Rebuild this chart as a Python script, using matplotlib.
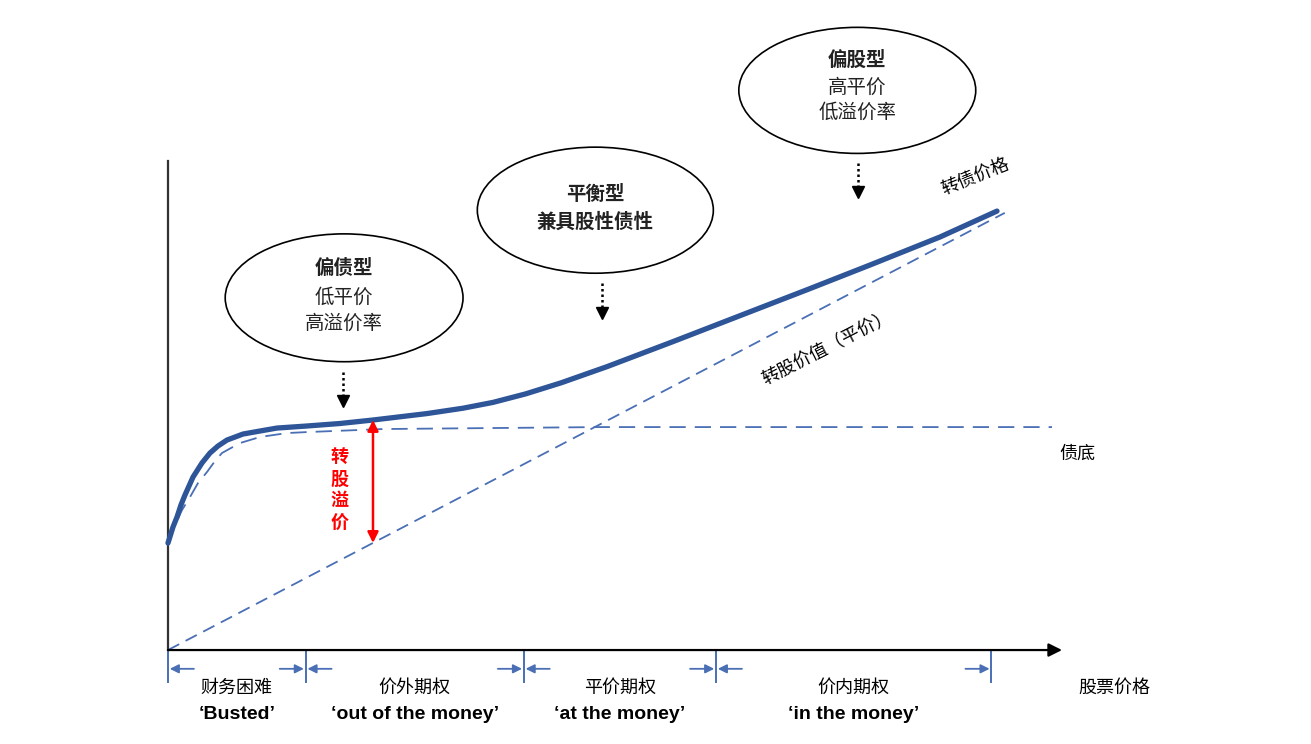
import matplotlib
matplotlib.use("Agg")
import matplotlib.pyplot as plt
from matplotlib.patches import Ellipse

plt.rcParams['font.family'] = ['Noto Sans CJK SC', 'DejaVu Sans']

# stock price (x) and values (y), conceptual units
conv_x = [0.0, 93.6]
conv_y = [0.0, 48.9]

bond_price_x = [0.0, 0.56, 1.01, 1.45, 1.90, 2.80, 3.80, 4.70, 5.59, 6.60, 8.39,
                10.29, 12.19, 15.55, 19.24, 22.93, 28.97, 33.0, 36.35, 40.0, 44.0,
                49.11, 56.49, 63.98, 71.48, 78.86, 86.35, 92.73]
bond_price_y = [11.97, 13.76, 14.88, 16.22, 17.34, 19.35, 20.92, 22.04, 22.82, 23.49,
                24.16, 24.50, 24.83, 25.06, 25.34, 25.73, 26.45, 27.05, 27.70, 28.65,
                29.90, 31.70, 34.50, 37.40, 40.30, 43.20, 46.20, 49.10]

floor_x = [0.0, 0.78, 1.57, 2.46, 3.36, 4.36, 5.26, 6.04, 8.05, 10.29, 13.31,
           15.55, 24.05, 48.32, 98.88]
floor_y = [12.08, 13.98, 15.66, 17.11, 18.68, 19.91, 21.14, 22.04, 23.15, 23.83,
           24.27, 24.38, 24.72, 24.94, 24.94]

zone_edges = [0.0, 15.4, 39.8, 61.3, 92.1]
zone_cn = ['财务困难', '价外期权', '平价期权', '价内期权']
zone_en = ['\u2018Busted\u2019', '\u2018out of the money\u2019',
           '\u2018at the money\u2019', '\u2018in the money\u2019']

premium_x = 22.93
premium_top = 25.73

dark_blue = '#2E5597'
mid_blue = '#4A6FB5'

fig = plt.figure(figsize=(13.11, 7.44), dpi=100)
ax = fig.add_axes([0, 0, 1, 1])
ax.set_xlim(-18.79, 127.85)
ax.set_ylim(-10.51, 72.71)
ax.axis('off')

# axes
ax.plot([0, 0], [0, 54.7], color='#333333', lw=1.6, zorder=3)
ax.annotate('', xy=(100, 0), xytext=(0, 0),
            arrowprops=dict(arrowstyle='-|>', color='black', lw=1.6,
                            mutation_scale=20, shrinkA=0, shrinkB=0), zorder=3)

# curves
ax.plot(conv_x, conv_y, color=mid_blue, lw=1.3, dashes=(7, 4))
ax.plot(floor_x, floor_y, color=mid_blue, lw=1.3, dashes=(9, 5))
ax.plot(bond_price_x, bond_price_y, color=dark_blue, lw=3.8,
        solid_capstyle='round', solid_joinstyle='round', zorder=4)

# conversion premium arrow
bot = conv_y[1] / conv_x[1] * premium_x
ax.annotate('', xy=(premium_x, premium_top), xytext=(premium_x, bot),
            arrowprops=dict(arrowstyle='<|-|>', color='red', lw=1.8,
                            mutation_scale=16, shrinkA=0, shrinkB=0), zorder=5)
ax.text(19.2, 17.9, '转\n股\n溢\n价', color='red', fontsize=13, fontweight='bold',
        ha='center', va='center', linespacing=1.2)

# ellipses
bubbles = [
    ((19.7, 39.4), 26.6, 14.3, [('偏债型', 42.7, 'bold'), ('低平价', 39.5, 'normal'),
                                 ('高溢价率', 36.6, 'normal')]),
    ((47.8, 49.2), 26.4, 14.1, [('平衡型', 50.9, 'bold'), ('兼具股性债性', 47.9, 'bold')]),
    ((77.1, 62.6), 26.5, 14.1, [('偏股型', 66.0, 'bold'), ('高平价', 62.9, 'normal'),
                                 ('低溢价率', 60.1, 'normal')]),
]
for (cx, cy), w, h, lines in bubbles:
    ax.add_patch(Ellipse((cx, cy), w, h, fill=False, ec='black', lw=1.2))
    for txt, ty, wt in lines:
        ax.text(cx, ty, txt, fontsize=14, fontweight=wt, ha='center', va='center',
                color='#222222')

# dotted pointers
for px, y0, y1 in [(19.6, 31.1, 27.4), (48.5, 41.1, 37.2), (77.2, 54.5, 50.7)]:
    ax.plot([px, px], [y0, y1 + 0.8], color='black', lw=1.8, ls=(0, (1, 1.2)))
    ax.plot(px, y1 + 0.5, marker='v', color='black', markersize=9)

# curve labels
ax.text(90.3, 52.9, '转债价格', fontsize=13, rotation=22, ha='center', va='center')
ax.text(73.8, 33.8, '转股价值（平价）', fontsize=13, rotation=27, ha='center', va='center')
ax.text(101.7, 22.0, '债底', fontsize=13, ha='center', va='center')
ax.text(105.9, -4.25, '股票价格', fontsize=13, ha='center', va='center')

# zone markers under the axis
for e in zone_edges:
    ax.plot([e, e], [-0.2, -3.6], color=mid_blue, lw=1.4)
for i in range(len(zone_cn)):
    a, b = zone_edges[i], zone_edges[i + 1]
    ax.annotate('', xy=(a + 0.2, -2.1), xytext=(a + 2.9, -2.1),
                arrowprops=dict(arrowstyle='-|>', color=mid_blue, lw=1.3,
                                mutation_scale=13, shrinkA=0, shrinkB=0))
    ax.annotate('', xy=(b - 0.2, -2.1), xytext=(b - 2.9, -2.1),
                arrowprops=dict(arrowstyle='-|>', color=mid_blue, lw=1.3,
                                mutation_scale=13, shrinkA=0, shrinkB=0))
    mid = (a + b) / 2
    ax.text(mid, -4.25, zone_cn[i], fontsize=13, ha='center', va='center')
    ax.text(mid, -7.2, zone_en[i], fontsize=14, fontweight='bold', ha='center',
            va='center', family='Liberation Sans')

fig.savefig('out.png', dpi=100)
